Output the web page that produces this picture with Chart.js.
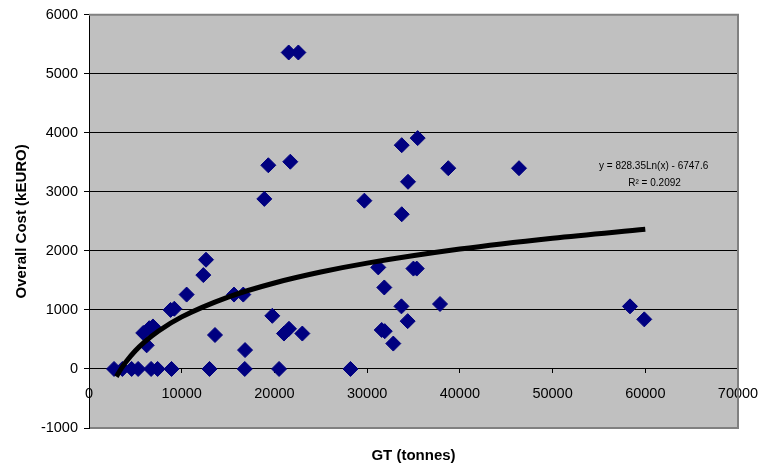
<!DOCTYPE html>
<html>
<head>
<meta charset="utf-8">
<title>Overall cost vs GT</title>
<script src="https://cdn.jsdelivr.net/npm/chart.js"></script>
<style>
  body { margin: 0; background: #fff; }
  #wrap { width: 760px; height: 466px; }
</style>
</head>
<body>
<div id="wrap"><canvas id="costChart" width="760" height="466"></canvas></div>
<script>
// ship data: gross tonnage vs overall cost
const gtValues = [2700, 3600, 4600, 5300, 6700, 7400, 8900, 13000, 16800, 20500, 28200,
  21540, 22580, 19340, 21710, 18910, 29700, 33730, 35450, 38750, 46380, 34410, 33730,
  12620, 12330, 10530, 8800, 9200, 5850, 6500, 6900, 6220, 13590, 15640, 16640, 16830,
  19770, 21030, 21570, 23010, 31200, 31850, 33700, 31570, 31900, 32820, 34990, 35350,
  34370, 37860, 58350, 59890];
const costValues = [0, 0, 0, 0, 0, 0, 0, 0, 0, 0, 0,
  5360, 5360, 3450, 3510, 2880, 2850, 3790, 3910, 3400, 3400, 3170, 2620,
  1850, 1590, 1260, 1000, 1020, 610, 690, 720, 400, 575, 1260, 1260, 320,
  900, 600, 680, 600, 1720, 1380, 1060, 660, 640, 430, 1700, 1700,
  810, 1100, 1060, 840];

// log trendline
const trendX = [2950, 3500, 4000, 5000, 6000, 7500, 10000, 15000, 20000, 25000, 30000, 40000, 50000, 60000];
const trendY = [-130, 12, 123, 308, 459, 644, 882, 1218, 1456, 1641, 1792, 2030, 2215, 2366];

const xTicks = [0, 10000, 20000, 30000, 40000, 50000, 60000, 70000];
const yTicks = [-1000, 0, 1000, 2000, 3000, 4000, 5000, 6000];

const eqText = 'y = 828.35Ln(x) - 6747.6';
const r2Text = 'R\u00b2 = 0.2092';

const FONT = '"Liberation Sans", Arial, sans-serif';

// grey plot area, frame, equation label
const plotBox = {
  id: 'plotBox',
  beforeDraw(chart) {
    const a = chart.chartArea, c = chart.ctx;
    c.save();
    c.fillStyle = '#c0c0c0';
    c.fillRect(a.left, a.top, a.right - a.left, a.bottom - a.top);
    c.restore();
  },
  beforeDatasetsDraw(chart) {
    const a = chart.chartArea, c = chart.ctx;
    c.save();
    c.strokeStyle = '#808080';
    c.lineWidth = 2;
    c.beginPath();
    c.moveTo(a.left, a.top);
    c.lineTo(a.right, a.top);
    c.lineTo(a.right, a.bottom);
    c.lineTo(a.left + 1, a.bottom);
    c.stroke();
    c.restore();
  },
  afterDraw(chart) {
    const c = chart.ctx;
    const sx = chart.scales.x, sy = chart.scales.y;
    c.save();
    c.fillStyle = '#000';
    c.font = '10px ' + FONT;
    c.textAlign = 'center';
    c.textBaseline = 'middle';
    c.fillText(eqText, sx.getPixelForValue(60900), sy.getPixelForValue(3430));
    c.fillText(r2Text, sx.getPixelForValue(61000), sy.getPixelForValue(3140));
    c.restore();
  }
};

const points = gtValues.map((v, i) => ({ x: v, y: costValues[i] }));
const trend = trendX.map((v, i) => ({ x: v, y: trendY[i] }));

new Chart(document.getElementById('costChart'), {
  type: 'scatter',
  data: {
    datasets: [
      {
        label: 'Trend',
        data: trend,
        showLine: true,
        borderColor: '#000',
        borderWidth: 5,
        pointRadius: 0,
        cubicInterpolationMode: 'monotone',
        order: 0
      },
      {
        label: 'Cost',
        data: points,
        pointStyle: 'rectRot',
        pointRadius: 7.5,
        pointHoverRadius: 7.5,
        backgroundColor: '#000080',
        borderColor: '#000080',
        borderWidth: 1,
        order: 1
      }
    ]
  },
  options: {
    responsive: false,
    animation: false,
    layout: { padding: { top: 14, right: 22, left: 0, bottom: 0 } },
    plugins: {
      legend: { display: false },
      tooltip: { enabled: false },
      title: {
        display: true,
        position: 'bottom',
        fullSize: false,
        text: 'GT (tonnes)',
        color: '#000',
        font: { family: FONT, size: 15, weight: 'bold' },
        padding: { top: 19, bottom: 1 }
      }
    },
    scales: {
      x: {
        type: 'linear',
        position: { y: 0 },
        min: 0,
        max: 70000,
        afterBuildTicks: (s) => { s.ticks = xTicks.map(v => ({ value: v })); },
        afterFit: (s) => { s.paddingLeft = 0; s.paddingRight = 0; },
        ticks: {
          color: '#000',
          font: { family: FONT, size: 14.5 },
          padding: 12,
          maxRotation: 0,
          autoSkip: false,
          callback: (v) => String(v)
        },
        grid: { drawOnChartArea: false, color: '#000', tickLength: 4 },
        border: { color: '#000', width: 1 }
      },
      y: {
        type: 'linear',
        min: -1000,
        max: 6000,
        afterBuildTicks: (s) => { s.ticks = yTicks.map(v => ({ value: v })); },
        afterFit: (s) => { s.width = 89; },
        ticks: {
          color: '#000',
          font: { family: FONT, size: 14.5 },
          padding: 6,
          callback: (v) => String(v)
        },
        grid: { color: '#000', lineWidth: 1, tickLength: 5 },
        border: { color: '#000', width: 1 },
        title: {
          display: true,
          text: 'Overall Cost (kEURO)',
          color: '#000',
          font: { family: FONT, size: 15, weight: 'bold' },
          padding: { top: 13, bottom: 0 }
        }
      }
    }
  },
  plugins: [plotBox]
});
</script>
</body>
</html>
